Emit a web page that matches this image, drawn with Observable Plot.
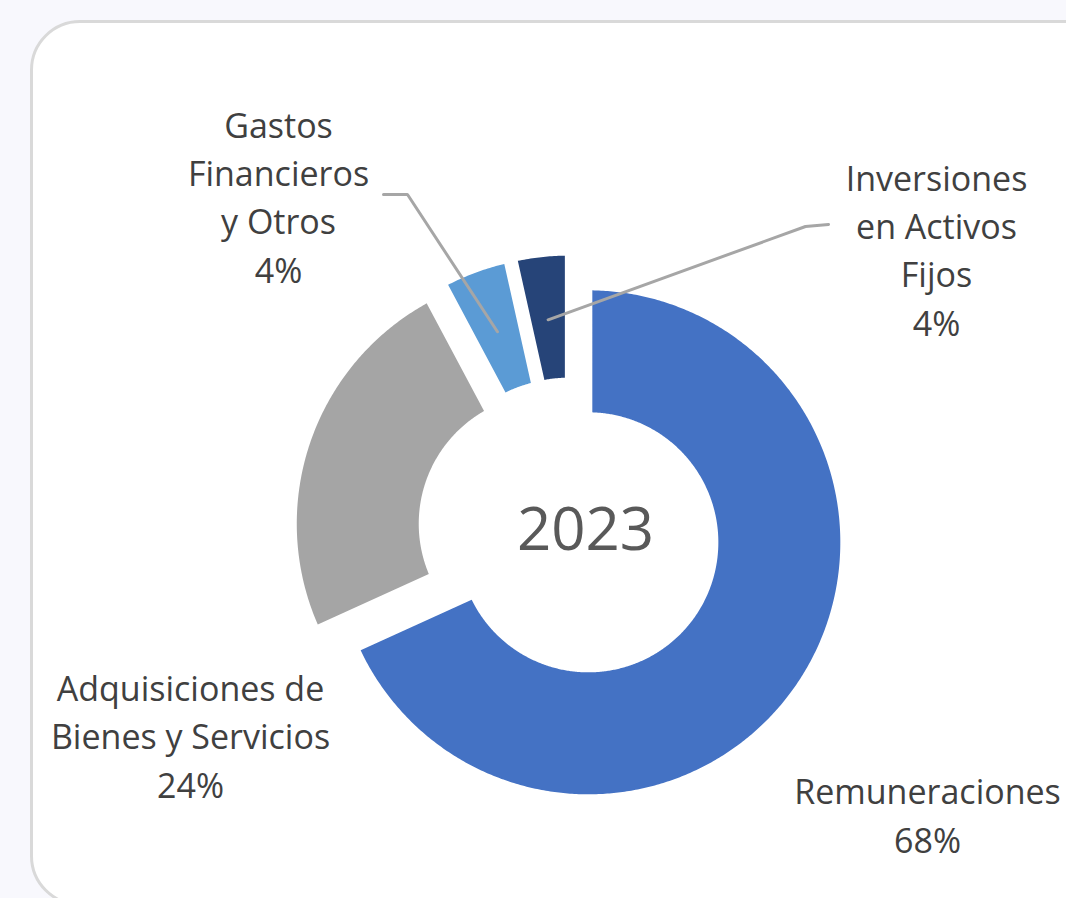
<!DOCTYPE html>
<html><head><meta charset="utf-8">
<script src="https://cdn.jsdelivr.net/npm/d3@7"></script>
<script src="https://cdn.jsdelivr.net/npm/@observablehq/plot@0.6"></script>
<style>
html,body{margin:0;padding:0;background:#f8f8fd;overflow:hidden;width:1066px;height:898px}
#card{position:absolute;left:29.5px;top:20px;width:1100px;height:886px;border:3px solid #d9d9d9;border-radius:50px;background:#fff;box-sizing:border-box}
#chart{position:absolute;left:0;top:0}
</style></head><body>
<div id="card"></div><div id="chart"></div>
<script>
// ---- data ----
const categories = ["Remuneraciones", "Adquisiciones de Bienes y Servicios", "Gastos Financieros y Otros", "Inversiones en Activos Fijos"];
const values = [68.2, 24.0, 4.3, 3.5];
const labelLines = ["Remuneraciones", "Adquisiciones de\nBienes y Servicios", "Gastos\nFinancieros\ny Otros", "Inversiones\nen Activos\nFijos"];
const centerTitle = "2023";

// ---- styles / layout ----
const colors = ["#4472c4", "#a5a5a5", "#5b9bd5", "#264478"];
const layout = {
  width: 1066, height: 898,
  cx: 571, cy: 531, R: 252, hole: 0.516, pad: 4,
  explode: [20, 24, 24, 24],
  labelPos: [[927, 852], [190, 797], [278, 282], [936, 335]],
  leaders: [null, null, {from: [383, 194], elbow: [407, 194]}, {from: [828, 224], elbow: [805, 226]}],
  leaderRadius: 0.75,
  titlePos: [585, 530]
};
const U = (px, py) => [(px - layout.cx) / layout.R, (py - layout.cy) / layout.R];

// ---- geometry from data ----
const total = d3.sum(values);
let acc = 0;
const slices = values.map((v, i) => {
  const a0 = acc / total * 2 * Math.PI; acc += v;
  const a1 = acc / total * 2 * Math.PI;
  const mid = (a0 + a1) / 2;
  const e = layout.explode[i] / layout.R;
  return {i, a0, a1, mid, ox: e * Math.sin(mid), oy: -e * Math.cos(mid)};
});
const rOut = 1, rIn = layout.hole, p = layout.pad / layout.R;
const poly = [];
for (const s of slices) {
  const arc = (rho, from, to) => {
    const n = Math.max(2, Math.ceil(Math.abs(to - from) / (Math.PI / 360)));
    for (let k = 0; k <= n; k++) {
      const a = from + (to - from) * k / n;
      poly.push({slice: categories[s.i], x: s.ox + rho * Math.sin(a), y: s.oy - rho * Math.cos(a)});
    }
  };
  arc(rOut, s.a0 + Math.asin(p / rOut), s.a1 - Math.asin(p / rOut));
  arc(rIn, s.a1 - Math.asin(p / rIn), s.a0 + Math.asin(p / rIn));
}

const leaderPts = [];
slices.forEach(s => {
  const L = layout.leaders[s.i];
  if (!L) return;
  const [fx, fy] = U(...L.from), [ex, ey] = U(...L.elbow);
  leaderPts.push({k: s.i, x: fx, y: fy}, {k: s.i, x: ex, y: ey},
    {k: s.i, x: s.ox + layout.leaderRadius * Math.sin(s.mid), y: s.oy - layout.leaderRadius * Math.cos(s.mid)});
});

const labels = values.map((v, i) => {
  const [x, y] = U(...layout.labelPos[i]);
  return {x, y, text: labelLines[i] + "\n" + Math.round(v / total * 100) + "%"};
});
const [tx, ty] = U(...layout.titlePos);

const font = "'Open Sans', 'Noto Sans', sans-serif";
const chart = Plot.plot({
  width: layout.width, height: layout.height,
  margin: 0,
  style: {background: "none", fontFamily: font},
  x: {axis: null, domain: [-layout.cx / layout.R, (layout.width - layout.cx) / layout.R], range: [0, layout.width]},
  y: {axis: null, domain: [-layout.cy / layout.R, (layout.height - layout.cy) / layout.R], range: [0, layout.height]},
  marks: [
    ...categories.map((c, i) => Plot.line(poly.filter(d => d.slice === c), {x: "x", y: "y", fill: colors[i], stroke: "none"})),
    Plot.line(leaderPts, {x: "x", y: "y", z: "k", stroke: "#a6a6a6", strokeWidth: 3, strokeLinejoin: "miter"}),
    Plot.text(labels, {x: "x", y: "y", text: "text", fontSize: 34, lineHeight: 1.42, lineAnchor: "bottom", textAnchor: "middle", fill: "#404040", fontFamily: font}),
    Plot.text([{x: tx, y: ty, t: centerTitle}], {x: "x", y: "y", text: "t", fontSize: 60, lineAnchor: "middle", textAnchor: "middle", fill: "#595959", fontFamily: font})
  ]
});
document.getElementById("chart").appendChild(chart);
</script>
</body></html>
